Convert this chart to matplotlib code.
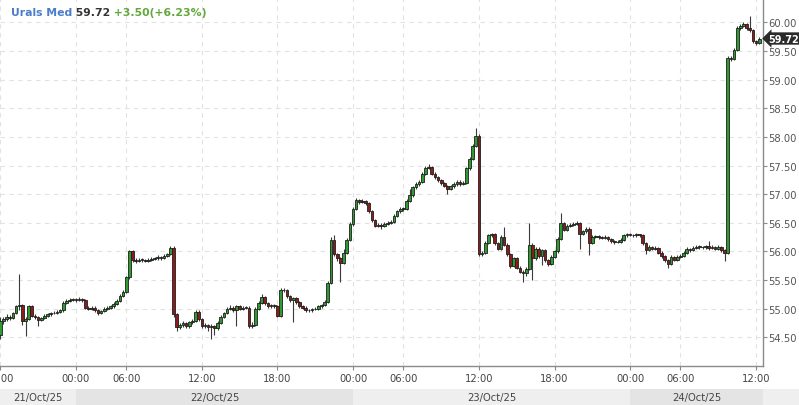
import matplotlib
matplotlib.use('Agg')
import matplotlib.pyplot as plt
import numpy as np

# 15-minute candles, Urals Med, 21/Oct 18:00 -> 24/Oct 12:15
opens = [
    54.55, 54.78, 54.82, 54.86, 54.84, 54.92, 55.04, 55.06, 54.78, 54.82,
    55.04, 54.88, 54.85, 54.80, 54.84, 54.88, 54.90, 54.92, 54.93, 54.95,
    54.97, 55.10, 55.14, 55.15, 55.16, 55.15, 55.17, 55.15, 55.02, 55.00,
    55.02, 54.98, 54.92, 54.96, 55.00, 55.02, 55.04, 55.08, 55.14, 55.22,
    55.30, 55.55, 56.00, 55.85, 55.84, 55.86, 55.85, 55.84, 55.86, 55.87,
    55.88, 55.90, 55.89, 55.92, 55.95, 56.06, 54.90, 54.68, 54.72, 54.75,
    54.70, 54.76, 54.78, 54.95, 54.82, 54.70, 54.72, 54.68, 54.70, 54.66,
    54.75, 54.86, 54.92, 55.00, 55.02, 54.98, 55.04, 55.00, 55.01, 55.02,
    54.70, 54.72, 55.00, 55.10, 55.20, 55.10, 55.05, 55.06, 55.04, 54.88,
    55.33, 55.32, 55.22, 55.15, 55.18, 55.12, 55.05, 55.02, 54.98, 54.97,
    54.99, 55.00, 55.04, 55.06, 55.12, 55.45, 56.20, 55.95, 55.88, 55.80,
    55.98, 56.20, 56.48, 56.75, 56.90, 56.86, 56.88, 56.84, 56.70, 56.55,
    56.45, 56.47, 56.44, 56.48, 56.50, 56.52, 56.62, 56.70, 56.75, 56.74,
    56.88, 56.98, 57.12, 57.18, 57.22, 57.35, 57.46, 57.48, 57.36, 57.30,
    57.25, 57.20, 57.15, 57.10, 57.14, 57.18, 57.22, 57.18, 57.20, 57.45,
    57.62, 57.85, 58.02, 55.95, 55.97, 56.15, 56.28, 56.30, 56.15, 56.05,
    56.25, 56.12, 55.95, 55.75, 55.88, 55.72, 55.65, 55.62, 55.70, 56.12,
    55.88, 56.05, 55.92, 56.02, 55.85, 55.78, 55.90, 56.00, 56.22, 56.50,
    56.38, 56.45, 56.47, 56.48, 56.50, 56.30, 56.35, 56.40, 56.15, 56.25,
    56.26, 56.25, 56.24, 56.25, 56.22, 56.18, 56.16, 56.17, 56.20, 56.28,
    56.30, 56.29, 56.28, 56.30, 56.28, 56.15, 56.02, 56.08, 56.05, 56.06,
    55.98, 55.92, 55.85, 55.78, 55.90, 55.86, 55.90, 55.92, 55.98, 56.04,
    56.02, 56.06, 56.08, 56.08, 56.07, 56.09, 56.06, 56.08, 56.05, 56.08,
    56.02, 55.98, 59.38, 59.36, 59.52, 59.90, 59.94, 59.97, 59.90, 59.86,
    59.67, 59.64,
]
highs = [
    54.85, 54.86, 54.90, 54.89, 54.95, 55.07, 55.61, 55.08, 54.85, 55.07,
    55.06, 54.90, 54.87, 54.86, 54.90, 54.93, 54.94, 54.96, 54.98, 55.00,
    55.13, 55.17, 55.18, 55.19, 55.18, 55.20, 55.19, 55.17, 55.04, 55.05,
    55.04, 55.00, 54.98, 55.03, 55.05, 55.07, 55.11, 55.17, 55.25, 55.33,
    55.58, 56.03, 56.02, 55.88, 55.89, 55.88, 55.87, 55.89, 55.90, 55.91,
    55.93, 55.92, 55.95, 55.98, 56.09, 56.10, 54.92, 54.75, 54.78, 54.77,
    54.79, 54.82, 54.98, 54.97, 54.84, 54.75, 54.74, 54.73, 54.72, 54.78,
    54.89, 54.95, 55.03, 55.06, 55.04, 55.07, 55.06, 55.04, 55.05, 55.04,
    54.76, 55.03, 55.13, 55.26, 55.22, 55.12, 55.09, 55.08, 55.06, 55.36,
    55.36, 55.34, 55.24, 55.21, 55.20, 55.14, 55.07, 55.04, 55.00, 55.02,
    55.03, 55.07, 55.09, 55.15, 55.48, 56.25, 56.28, 55.97, 55.90, 56.05,
    56.23, 56.52, 56.78, 56.94, 56.92, 56.91, 56.90, 56.86, 56.72, 56.57,
    56.50, 56.49, 56.51, 56.53, 56.55, 56.65, 56.73, 56.78, 56.78, 56.91,
    57.10, 57.15, 57.21, 57.25, 57.38, 57.49, 57.52, 57.50, 57.38, 57.32,
    57.27, 57.22, 57.17, 57.17, 57.21, 57.25, 57.24, 57.23, 57.48, 57.65,
    57.88, 58.15, 58.05, 56.00, 56.18, 56.31, 56.33, 56.32, 56.17, 56.28,
    56.43, 56.14, 55.97, 55.91, 55.90, 55.74, 55.68, 55.73, 56.50, 56.15,
    56.08, 56.07, 56.05, 56.04, 55.87, 55.93, 56.03, 56.25, 56.68, 56.52,
    56.48, 56.50, 56.51, 56.54, 56.52, 56.38, 56.43, 56.42, 56.28, 56.29,
    56.28, 56.27, 56.28, 56.27, 56.24, 56.20, 56.20, 56.23, 56.31, 56.33,
    56.32, 56.31, 56.32, 56.31, 56.30, 56.17, 56.11, 56.10, 56.09, 56.08,
    56.00, 55.94, 55.87, 55.93, 55.92, 55.93, 55.95, 56.01, 56.07, 56.06,
    56.09, 56.11, 56.11, 56.10, 56.12, 56.18, 56.11, 56.10, 56.11, 56.10,
    56.04, 59.42, 59.42, 59.55, 59.93, 59.97, 60.00, 59.99, 60.11, 59.88,
    59.69, 59.75,
]
lows = [
    54.48, 54.74, 54.79, 54.80, 54.82, 54.90, 54.98, 54.72, 54.52, 54.80,
    54.85, 54.82, 54.70, 54.78, 54.82, 54.86, 54.88, 54.90, 54.91, 54.93,
    54.95, 55.08, 55.12, 55.13, 55.12, 55.13, 55.12, 54.99, 54.97, 54.98,
    54.95, 54.89, 54.90, 54.94, 54.98, 55.00, 55.02, 55.06, 55.12, 55.20,
    55.28, 55.52, 55.82, 55.80, 55.82, 55.82, 55.81, 55.82, 55.84, 55.85,
    55.86, 55.86, 55.87, 55.90, 55.93, 54.85, 54.62, 54.65, 54.68, 54.66,
    54.67, 54.73, 54.76, 54.79, 54.67, 54.66, 54.62, 54.48, 54.55, 54.63,
    54.73, 54.84, 54.90, 54.97, 54.95, 54.70, 54.97, 54.98, 54.99, 54.67,
    54.66, 54.70, 54.98, 55.08, 55.07, 55.02, 55.02, 55.01, 54.85, 54.86,
    55.29, 55.19, 55.12, 54.77, 55.09, 55.02, 54.99, 54.95, 54.94, 54.95,
    54.97, 54.98, 55.02, 55.04, 55.10, 55.43, 55.92, 55.84, 55.47, 55.78,
    55.95, 56.18, 56.45, 56.72, 56.83, 56.84, 56.81, 56.67, 56.52, 56.42,
    56.42, 56.40, 56.42, 56.46, 56.48, 56.50, 56.60, 56.68, 56.71, 56.72,
    56.86, 56.96, 57.10, 57.15, 57.20, 57.33, 57.44, 57.33, 57.27, 57.22,
    57.17, 57.12, 57.00, 57.07, 57.11, 57.15, 57.15, 57.16, 57.18, 57.43,
    57.60, 57.83, 55.92, 55.92, 55.95, 56.13, 56.25, 56.12, 56.02, 56.03,
    56.09, 55.92, 55.72, 55.73, 55.69, 55.62, 55.47, 55.58, 55.68, 55.50,
    55.85, 55.89, 55.76, 55.82, 55.75, 55.76, 55.88, 55.98, 56.20, 56.35,
    56.36, 56.43, 56.45, 56.46, 56.05, 56.28, 56.33, 55.93, 56.13, 56.23,
    56.22, 56.21, 56.22, 56.19, 56.15, 56.13, 56.14, 56.15, 56.18, 56.26,
    56.27, 56.26, 56.26, 56.25, 56.12, 55.96, 56.00, 56.02, 56.03, 55.95,
    55.89, 55.82, 55.72, 55.76, 55.83, 55.84, 55.88, 55.90, 55.96, 55.99,
    56.00, 56.04, 56.05, 56.04, 56.05, 56.03, 56.04, 56.02, 56.03, 55.99,
    55.84, 55.96, 59.32, 59.34, 59.50, 59.86, 59.92, 59.87, 59.84, 59.64,
    59.61, 59.62,
]
closes = [
    54.78, 54.82, 54.86, 54.84, 54.92, 55.04, 55.06, 54.78, 54.82, 55.04,
    54.88, 54.85, 54.80, 54.84, 54.88, 54.90, 54.92, 54.93, 54.95, 54.97,
    55.10, 55.14, 55.15, 55.16, 55.15, 55.17, 55.15, 55.02, 55.00, 55.02,
    54.98, 54.92, 54.96, 55.00, 55.02, 55.04, 55.08, 55.14, 55.22, 55.30,
    55.55, 56.00, 55.85, 55.84, 55.86, 55.85, 55.84, 55.86, 55.87, 55.88,
    55.90, 55.89, 55.92, 55.95, 56.06, 54.90, 54.68, 54.72, 54.75, 54.70,
    54.76, 54.78, 54.95, 54.82, 54.70, 54.72, 54.68, 54.70, 54.66, 54.75,
    54.86, 54.92, 55.00, 55.02, 54.98, 55.04, 55.00, 55.01, 55.02, 54.70,
    54.72, 55.00, 55.10, 55.20, 55.10, 55.05, 55.06, 55.04, 54.88, 55.33,
    55.32, 55.22, 55.15, 55.18, 55.12, 55.05, 55.02, 54.98, 54.97, 54.99,
    55.00, 55.04, 55.06, 55.12, 55.45, 56.20, 55.95, 55.88, 55.80, 55.98,
    56.20, 56.48, 56.75, 56.90, 56.86, 56.88, 56.84, 56.70, 56.55, 56.45,
    56.47, 56.44, 56.48, 56.50, 56.52, 56.62, 56.70, 56.75, 56.74, 56.88,
    56.98, 57.12, 57.18, 57.22, 57.35, 57.46, 57.48, 57.36, 57.30, 57.25,
    57.20, 57.15, 57.10, 57.14, 57.18, 57.22, 57.18, 57.20, 57.45, 57.62,
    57.85, 58.02, 55.95, 55.97, 56.15, 56.28, 56.30, 56.15, 56.05, 56.25,
    56.12, 55.95, 55.75, 55.88, 55.72, 55.65, 55.62, 55.70, 56.12, 55.88,
    56.05, 55.92, 56.02, 55.85, 55.78, 55.90, 56.00, 56.22, 56.50, 56.38,
    56.45, 56.47, 56.48, 56.50, 56.30, 56.35, 56.40, 56.15, 56.25, 56.26,
    56.25, 56.24, 56.25, 56.22, 56.18, 56.16, 56.17, 56.20, 56.28, 56.30,
    56.29, 56.28, 56.30, 56.28, 56.15, 56.02, 56.08, 56.05, 56.06, 55.98,
    55.92, 55.85, 55.78, 55.90, 55.86, 55.90, 55.92, 55.98, 56.04, 56.02,
    56.06, 56.08, 56.08, 56.07, 56.09, 56.06, 56.08, 56.05, 56.08, 56.02,
    55.98, 59.38, 59.36, 59.52, 59.90, 59.94, 59.97, 59.90, 59.86, 59.67,
    59.64, 59.72,
]
assert len(opens) == len(highs) == len(lows) == len(closes)

# x ticks (candle index of each time) and day bands
tick_pos = [0, 24, 40, 64, 88, 112, 128, 152, 176, 200, 216, 240]
tick_labels = ['18:00', '00:00', '06:00', '12:00', '18:00', '00:00',
               '06:00', '12:00', '18:00', '00:00', '06:00', '12:00']
day_labels = ['21/Oct/25', '22/Oct/25', '23/Oct/25', '24/Oct/25']
day_edges = [-0.1, 24, 112, 200, 242.2]

name = 'Urals Med'
last_price = 59.72
change = '+3.50(+6.23%)'

o = np.array(opens)
h = np.array(highs)
l = np.array(lows)
c = np.array(closes)
x = np.arange(len(c))
up = c >= o

W, H = 799, 406
fig = plt.figure(figsize=(W / 100, H / 100), dpi=100)
fig.patch.set_facecolor('white')

ax_w = 763 / W
ax_b = 1 - 367 / H
ax = fig.add_axes([0, ax_b, ax_w, 367 / H])
xmin, xmax = -0.1, 242.2
ax.set_xlim(xmin, xmax)
ax.set_ylim(54.0, 60.41)

# candles
ax.vlines(x, l, h, color='#3a3a3a', lw=0.8, zorder=2)
body_bottom = np.minimum(o, c)
body_h = np.maximum(np.abs(c - o), 0.012)
colors = np.where(up, '#2f9a2f', '#8c1c1c')
ax.bar(x, body_h, bottom=body_bottom, width=0.85, color=colors,
       edgecolor='#1e1e1e', linewidth=0.6, zorder=3)

# grid
ax.set_axisbelow(True)
ax.grid(True, color='#e2e2e2', linestyle=(0, (4, 4)), linewidth=0.8)

# axes styling
for s in ['left', 'top']:
    ax.spines[s].set_visible(False)
for s in ['right', 'bottom']:
    ax.spines[s].set_color('#8a8a8a')
    ax.spines[s].set_linewidth(1.0)
ax.yaxis.tick_right()
ax.set_yticks(np.arange(54.5, 60.01, 0.5))
ax.yaxis.set_major_formatter(matplotlib.ticker.FormatStrFormatter('%.2f'))
ax.tick_params(axis='y', direction='out', length=3, pad=1, labelsize=7.2,
               colors='#8a8a8a', labelcolor='#555555')
ax.set_xticks(tick_pos)
ax.set_xticklabels(tick_labels)
ax.tick_params(axis='x', direction='out', length=3, pad=2, labelsize=7.2,
               colors='#8a8a8a', labelcolor='#444444')

# last price marker
ax.text(1.0075, last_price, f'{last_price:.2f}', transform=ax.get_yaxis_transform(),
        ha='left', va='center', color='white', fontsize=7.0, fontweight='bold',
        bbox=dict(boxstyle='larrow,pad=0.12', fc='#2b2b2b', ec='none'),
        clip_on=False, zorder=5)

# title
t1 = ax.text(11 / 763, 1 - 13 / 367, name, transform=ax.transAxes,
             color='#4a7cc9', fontsize=7.8, fontweight='bold', va='center')
t2 = ax.annotate(f' {last_price:.2f}', xy=(1, 0), xycoords=t1, va='bottom',
                 color='#333333', fontsize=7.8, fontweight='bold')
ax.annotate(f' {change}', xy=(1, 0), xycoords=t2, va='bottom',
            color='#62a83c', fontsize=7.8, fontweight='bold')

# day band
band_h = 16 / H
bax = fig.add_axes([0, 0, 1, band_h])
bax.set_xlim(xmin, xmin + (xmax - xmin) * W / 763)
bax.set_ylim(0, 1)
bax.set_facecolor('#efefef')
for s in bax.spines.values():
    s.set_visible(False)
bax.set_xticks([])
bax.set_yticks([])
for k, (a, b) in enumerate(zip(day_edges[:-1], day_edges[1:])):
    bax.axvspan(a, b, color='#e4e4e4' if k % 2 else '#efefef', lw=0)
    bax.text((a + b) / 2, 0.5, day_labels[k], ha='center', va='center',
             fontsize=7.2, color='#444444')

plt.savefig('out.png', dpi=100)
